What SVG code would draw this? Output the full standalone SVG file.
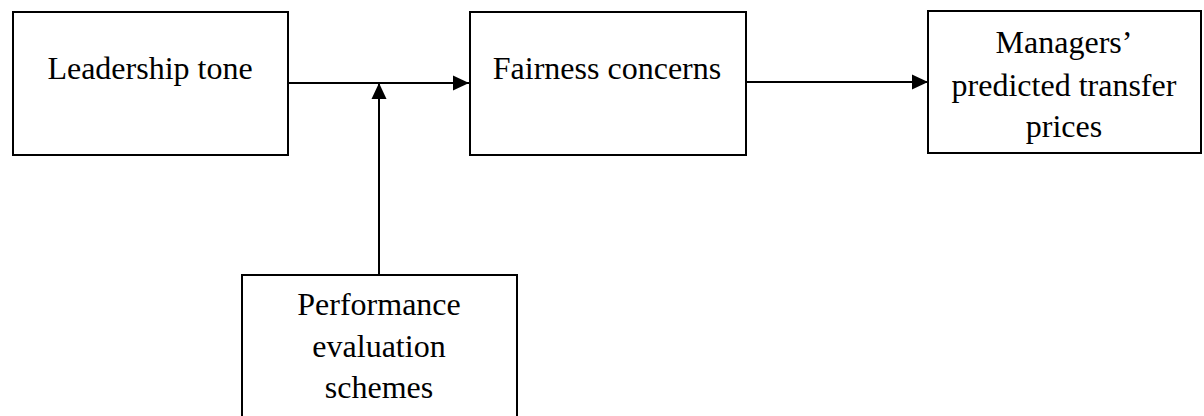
<svg xmlns="http://www.w3.org/2000/svg" width="1204" height="416" viewBox="0 0 1204 416">
<style>
.box{fill:#fff;stroke:#000;stroke-width:2}
.lbl{font-family:"Liberation Serif","Times New Roman",serif;font-size:32px;fill:#000;text-anchor:middle}
.conn{stroke:#000;stroke-width:2;fill:none}
</style>
<defs>
<marker id="arr" markerUnits="userSpaceOnUse" markerWidth="16" markerHeight="16" viewBox="0 0 16 16" refX="16" refY="8" orient="auto">
<path d="M0,0.5 L16,8 L0,15.5 Z" fill="#000"/>
</marker>
</defs>
<rect width="1204" height="416" fill="#fff"/>
<g id="connectors">
<line class="conn" x1="288" y1="83" x2="469" y2="83" marker-end="url(#arr)"/>
<line class="conn" x1="379" y1="275" x2="379" y2="83" marker-end="url(#arr)"/>
<line class="conn" x1="746" y1="82" x2="928" y2="82" marker-end="url(#arr)"/>
</g>
<g id="leadership">
<rect class="box" x="13" y="12" width="275" height="143"/>
<text class="lbl" x="150" y="79">Leadership tone</text>
</g>
<g id="fairness">
<rect class="box" x="470" y="12" width="276" height="143"/>
<text class="lbl" x="607" y="79">Fairness concerns</text>
</g>
<g id="managers">
<rect class="box" x="928" y="11" width="273" height="142"/>
<text class="lbl" x="1064" y="53">Managers’</text>
<text class="lbl" x="1064" y="96">predicted transfer</text>
<text class="lbl" x="1064" y="137">prices</text>
</g>
<g id="performance">
<rect class="box" x="242" y="275" width="275" height="150"/>
<text class="lbl" x="379" y="315">Performance</text>
<text class="lbl" x="379" y="357">evaluation</text>
<text class="lbl" x="379" y="398">schemes</text>
</g>
</svg>
